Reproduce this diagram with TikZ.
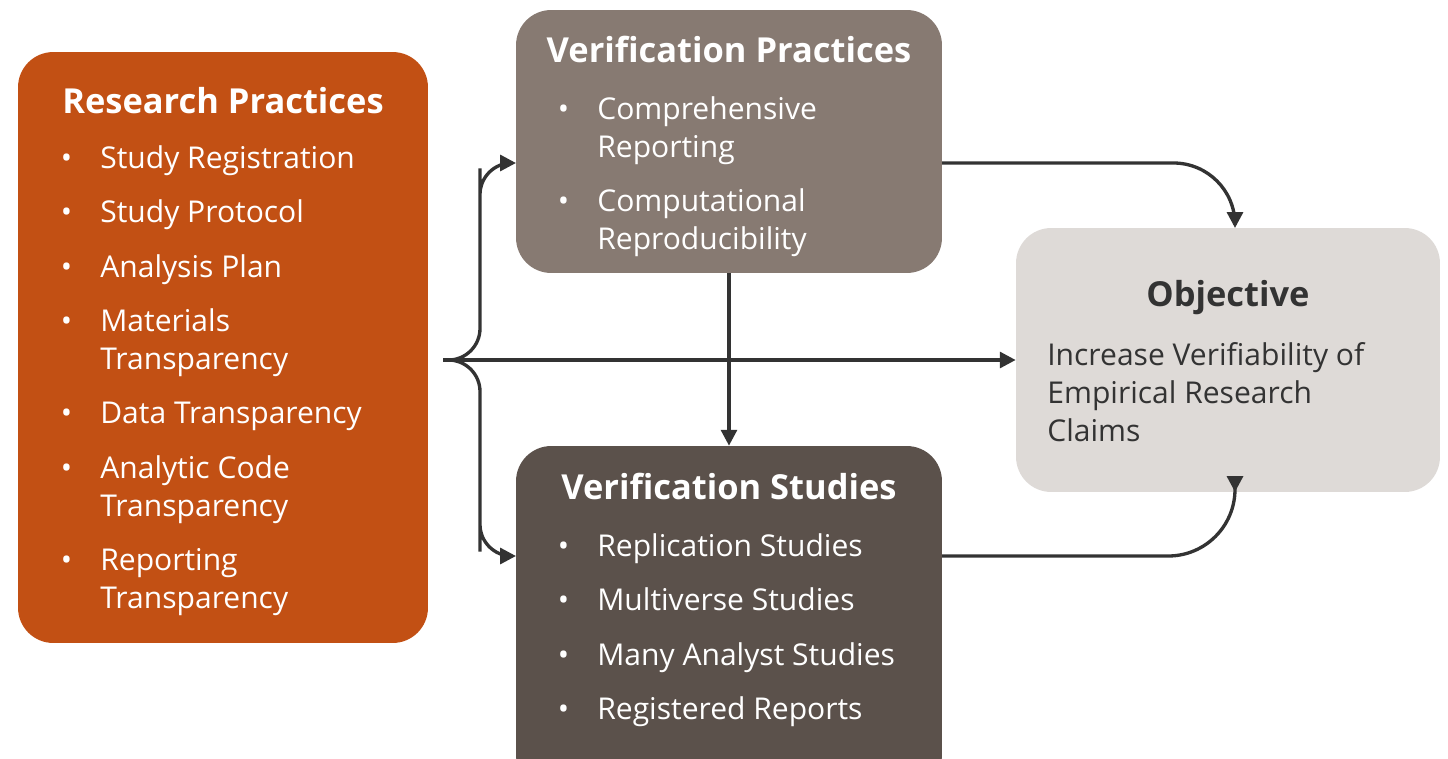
\documentclass[tikz,border=0pt]{standalone}
\usepackage{fontspec}
\setmainfont{Open Sans}
\usetikzlibrary{arrows.meta,positioning}

\definecolor{rust}{HTML}{C25014}
\definecolor{taupe}{HTML}{877A72}
\definecolor{umber}{HTML}{5B514B}
\definecolor{mist}{HTML}{DEDAD7}
\definecolor{ink}{HTML}{333333}
\newcommand\bitem[1]{\llap{\textbullet\hspace{16pt}}#1}

\begin{document}
\begin{tikzpicture}[x=0.02cm, y=-0.02cm,
    box/.style = {rounded corners=20pt, inner sep=0pt},
    head/.style = {font=\fontsize{19.6}{22}\selectfont\bfseries, inner sep=0pt, anchor=base},
    list/.style = {font=\fontsize{17.1}{21.6}\selectfont, align=left, inner sep=0pt, anchor=north west},
    arr/.style = {draw=ink, line width=1.9pt, -{Triangle[length=9pt, width=9pt]}}]
        \clip (0,0) rectangle (1448,758);

        % boxes
        \node [box, fill=rust, minimum width=8.2cm, minimum height=11.82cm] (res) at (223,347.5) {};
        \node [box, fill=taupe, minimum width=8.52cm, minimum height=5.26cm] (vprac) at (729,141.5) {};
        \node [box, fill=umber, minimum width=8.52cm, minimum height=6.88cm] (vstud) at (729,618) {};
        \node [box, fill=mist, minimum width=8.48cm, minimum height=5.28cm] (obj) at (1228,360) {};

        % titles
        \node [head, white] (restitle) at (223,113) {Research Practices};
        \node [head, white] (vpractitle) at (729,62) {Verification Practices};
        \node [head, white] (vstudtitle) at (729,499) {Verification Studies};
        \node [head, ink] (objtitle) at (1228,306) {Objective};

        % lists
        \node [list, white] (reslist) at (100,145) {\bitem{Study Registration}\\[9.4pt]
                \bitem{Study Protocol}\\[9.4pt]
                \bitem{Analysis Plan}\\[9.4pt]
                \bitem{Materials}\\Transparency\\[9.4pt]
                \bitem{Data Transparency}\\[9.4pt]
                \bitem{Analytic Code}\\Transparency\\[9.4pt]
                \bitem{Reporting}\\Transparency};
        \node [list, white] (vpraclist) at (597,96) {\bitem{Comprehensive}\\Reporting\\[9.4pt]
                \bitem{Computational}\\Reproducibility};
        \node [list, white] (vstudlist) at (597,533) {\bitem{Replication Studies}\\[9.4pt]
                \bitem{Multiverse Studies}\\[9.4pt]
                \bitem{Many Analyst Studies}\\[9.4pt]
                \bitem{Registered Reports}};
        \node [list, ink] (objtext) at (1047,342) {Increase Verifiability of\\Empirical Research\\Claims};

        % connectors
        \coordinate (split) at (443,360);
        \coordinate (vpin) at (516,163);
        \coordinate (vsin) at (516,556);
        \coordinate (vpout) at (942,163);
        \coordinate (vsout) at (942,556);
        \coordinate (objtop) at (1235,228);
        \coordinate (objbot) at (1235,492);

        \draw [arr, rounded corners=18pt] (split) -| (480,200) |- (vpin);
        \draw [arr, rounded corners=18pt] (split) -| (480,520) |- (vsin);
        \draw [arr] (split) -- (obj.west);
        \draw [arr] (vprac.south) -- (vstud.north);
        \draw [arr, rounded corners=35pt] (vpout) -| (objtop);
        \draw [arr, rounded corners=38pt] (vsout) -| (objbot);
\end{tikzpicture}
\end{document}
